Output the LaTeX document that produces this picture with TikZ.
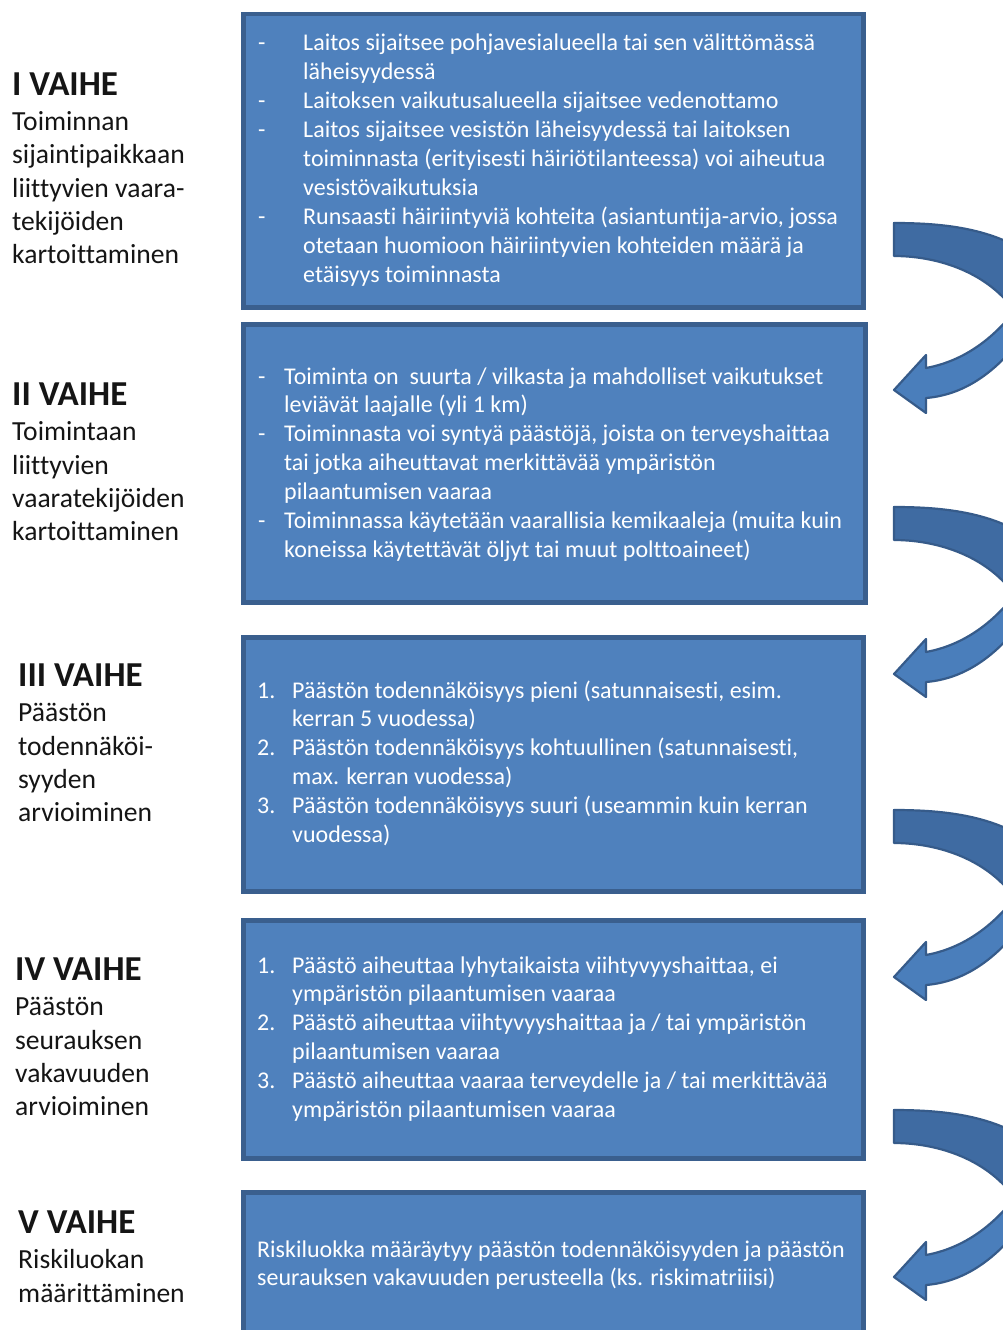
\documentclass[tikz,border=0pt]{standalone}
\usepackage{fontspec}
\setmainfont{Carlito}[Ligatures={NoCommon}]
\definecolor{boxfill}{HTML}{4F81BD}
\definecolor{boxedge}{HTML}{3A5F8E}
\definecolor{arrdark}{HTML}{3F6BA2}
\definecolor{arrlight}{HTML}{4A7EBB}
\definecolor{arredge}{HTML}{365B8A}
\definecolor{labeltext}{HTML}{151515}
\begin{document}
\begin{tikzpicture}[x=1pt,y=-1pt,
  stepbox/.style={draw=boxedge, line width=4.5pt, fill=boxfill, anchor=north west, inner sep=0pt},
  bodytext/.style={anchor=base west, inner sep=0pt, text=white, font=\fontsize{24}{28.9}\selectfont},
  steplabel/.style={anchor=base west, inner sep=0pt, text=labeltext, font=\fontsize{27.6}{33.3}\selectfont},
  curvarrow/.pic={
    \filldraw[fill=arrdark, draw=arredge, line width=2.2pt, line join=round]
      (0,0) .. controls (60,0) and (110,8) .. (150,42) -- (160,95) -- (122,90)
      .. controls (95,50) and (45,33) .. (0,33) -- cycle;
    \filldraw[fill=arrlight, draw=arredge, line width=2.2pt, line join=round]
      (128,78) .. controls (102,115) and (70,138) .. (32,145) -- (32,132) -- (0,167)
      -- (32,190) -- (32,175) .. controls (68,172) and (100,152) .. (130,112) -- cycle;
  }]
\useasboundingbox (0,0) rectangle (1003,1330);
\fill[white] (0,0) rectangle (1003,1330);

% boxes
\node[stepbox, minimum width=620pt, minimum height=293pt] (b1) at (241,12) {};
\node[stepbox, minimum width=622pt, minimum height=278pt] (b2) at (241,322) {};
\node[stepbox, minimum width=620pt, minimum height=254pt] (b3) at (241,635) {};
\node[stepbox, minimum width=620pt, minimum height=238pt] (b4) at (241,918) {};
\node[stepbox, minimum width=620pt, minimum height=160pt] (b5) at (241,1190) {};

% box texts
\node[bodytext] (t1) at (258,51) {\begin{tabular}[t]{@{}l@{}l@{}}
\makebox[45pt][l]{-} & Laitos sijaitsee pohjavesialueella tai sen välittömässä\\
 & läheisyydessä\\
\makebox[45pt][l]{-} & Laitoksen vaikutusalueella sijaitsee vedenottamo\\
\makebox[45pt][l]{-} & Laitos sijaitsee vesistön läheisyydessä tai laitoksen\\
 & toiminnasta (erityisesti häiriötilanteessa) voi aiheutua\\
 & vesistövaikutuksia\\
\makebox[45pt][l]{-} & Runsaasti häiriintyviä kohteita (asiantuntija-arvio, jossa\\
 & otetaan huomioon häiriintyvien kohteiden määrä ja\\
 & etäisyys toiminnasta
\end{tabular}};

\node[bodytext] (t2) at (258,384) {\begin{tabular}[t]{@{}l@{}l@{}}
\makebox[26pt][l]{-} & Toiminta on \ suurta / vilkasta ja mahdolliset vaikutukset\\
 & leviävät laajalle (yli 1 km)\\
\makebox[26pt][l]{-} & Toiminnasta voi syntyä päästöjä, joista on terveyshaittaa\\
 & tai jotka aiheuttavat merkittävää ympäristön\\
 & pilaantumisen vaaraa\\
\makebox[26pt][l]{-} & Toiminnassa käytetään vaarallisia kemikaaleja (muita kuin\\
 & koneissa käytettävät öljyt tai muut polttoaineet)
\end{tabular}};

\node[bodytext] (t3) at (257,698) {\begin{tabular}[t]{@{}l@{}l@{}}
\makebox[35pt][l]{1.} & Päästön todennäköisyys pieni (satunnaisesti, esim.\\
 & kerran 5 vuodessa)\\
\makebox[35pt][l]{2.} & Päästön todennäköisyys kohtuullinen (satunnaisesti,\\
 & max. kerran vuodessa)\\
\makebox[35pt][l]{3.} & Päästön todennäköisyys suuri (useammin kuin kerran\\
 & vuodessa)
\end{tabular}};

\node[bodytext] (t4) at (257,973) {\begin{tabular}[t]{@{}l@{}l@{}}
\makebox[35pt][l]{1.} & Päästö aiheuttaa lyhytaikaista viihtyvyyshaittaa, ei\\
 & ympäristön pilaantumisen vaaraa\\
\makebox[35pt][l]{2.} & Päästö aiheuttaa viihtyvyyshaittaa ja / tai ympäristön\\
 & pilaantumisen vaaraa\\
\makebox[35pt][l]{3.} & Päästö aiheuttaa vaaraa terveydelle ja / tai merkittävää\\
 & ympäristön pilaantumisen vaaraa
\end{tabular}};

\node[bodytext] (t5) at (257,1257) {\begin{tabular}[t]{@{}l@{}}
Riskiluokka määräytyy päästön todennäköisyyden ja päästön\\
seurauksen vakavuuden perusteella (ks. riskimatriiisi)
\end{tabular}};

% stage labels
\node[steplabel] (l1) at (12,95) {\begin{tabular}[t]{@{}l@{}}
{\fontsize{35}{38}\selectfont\bfseries I VAIHE}\\[2.4pt]
Toiminnan\\ sijaintipaikkaan\\ liittyvien vaara-\\ tekijöiden\\ kartoittaminen
\end{tabular}};
\node[steplabel] (l2) at (12,405) {\begin{tabular}[t]{@{}l@{}}
{\fontsize{35}{38}\selectfont\bfseries II VAIHE}\\[2.4pt]
Toimintaan\\ liittyvien\\ vaaratekijöiden\\ kartoittaminen
\end{tabular}};
\node[steplabel] (l3) at (18,686) {\begin{tabular}[t]{@{}l@{}}
{\fontsize{35}{38}\selectfont\bfseries III VAIHE}\\[2.4pt]
Päästön\\ todennäköi-\\ syyden\\ arvioiminen
\end{tabular}};
\node[steplabel] (l4) at (15,980) {\begin{tabular}[t]{@{}l@{}}
{\fontsize{35}{38}\selectfont\bfseries IV VAIHE}\\[2.4pt]
Päästön\\ seurauksen\\ vakavuuden\\ arvioiminen
\end{tabular}};
\node[steplabel] (l5) at (18,1233) {\begin{tabular}[t]{@{}l@{}}
{\fontsize{35}{38}\selectfont\bfseries V VAIHE}\\[2.4pt]
Riskiluokan\\ määrittäminen
\end{tabular}};

% curved arrows
\begin{scope}
\clip (0,0) rectangle (1003,1330);
\pic at (894,223) {curvarrow};
\pic at (894,507) {curvarrow};
\pic at (894,810) {curvarrow};
\pic at (894,1110) {curvarrow};
\end{scope}
\end{tikzpicture}
\end{document}
